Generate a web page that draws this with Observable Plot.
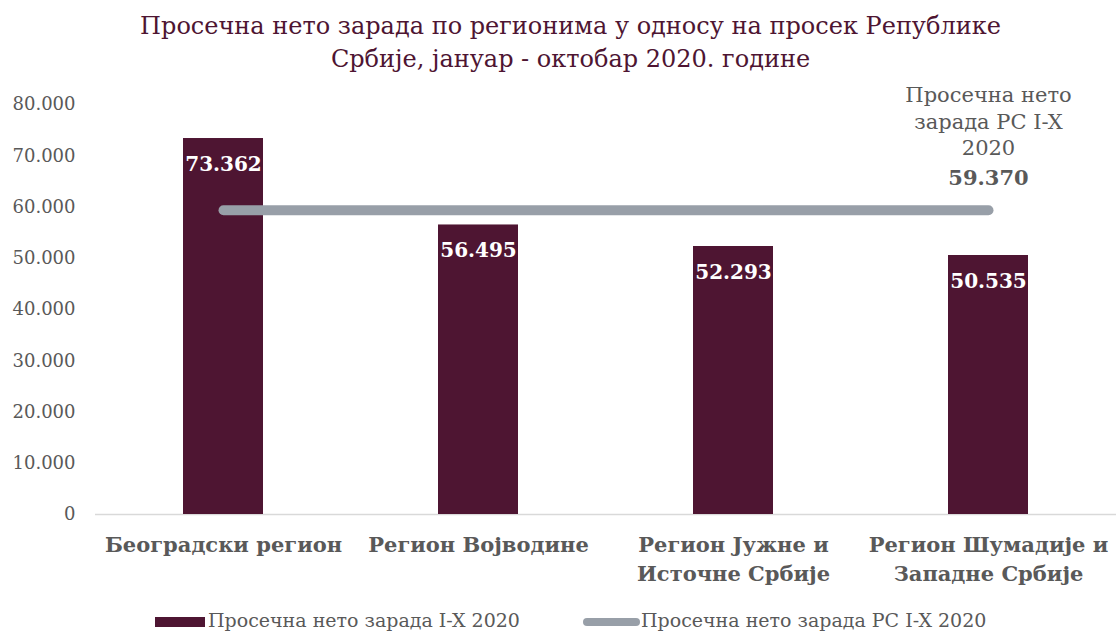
<!DOCTYPE html>
<html>
<head>
<meta charset="utf-8">
<script src="https://cdn.jsdelivr.net/npm/d3@7"></script>
<script src="https://cdn.jsdelivr.net/npm/@observablehq/plot@0.6"></script>
<style>
  html, body { margin: 0; padding: 0; background: #fff; }
  body { width: 1119px; height: 632px; overflow: hidden; font-family: "DejaVu Serif", serif; }
  #title { width: 1119px; height: 78px; box-sizing: border-box; padding-top: 10px; padding-left: 22px; text-align: center; color: #4E1532; font-size: 24px; line-height: 33px; }
  #legend { position: absolute; top: 606px; left: 0; width: 1119px; height: 26px; font-size: 19px; color: #595959; }
  .sw { position: absolute; }
  .lt { position: absolute; top: 3px; white-space: nowrap; }
</style>
</head>
<body>
<div id="title">Просечна нето зарада по регионима у односу на просек Републике<br>Србије, јануар - октобар 2020. године</div>
<div id="chart"></div>
<div id="legend">
  <div class="sw" style="left:155px; top:11px; width:50px; height:10px; background:#4E1532;"></div>
  <div class="lt" style="left:208px;">Просечна нето зарада I-X 2020</div>
  <div class="sw" style="left:583px; top:12px; width:57px; height:8px; border-radius:4px; background:#989FA8;"></div>
  <div class="lt" style="left:641px;">Просечна нето зарада РС I-X 2020</div>
</div>
<script>
const regions = ["Београдски регион", "Регион Војводине", "Регион Јужне и Источне Србије", "Регион Шумадије и Западне Србије"];
const tickLabels = ["Београдски регион", "Регион Војводине", "Регион Јужне и\nИсточне Србије", "Регион Шумадије и\nЗападне Србије"];
const wages = [73362, 56495, 52293, 50535];
const nationalAvg = 59370;
const avgLabel = "Просечна нето\nзарада РС I-X\n2020";
const yTicks = [0, 10000, 20000, 30000, 40000, 50000, 60000, 70000, 80000];

const fmt = d => d === 0 ? "0" : d3.format(",")(d).replace(/,/g, ".");
const bars = regions.map((r, i) => ({region: r, value: wages[i]}));
const avgLine = regions.map(r => ({region: r, value: nationalAvg}));
const lastRegion = regions[regions.length - 1];

const chart = Plot.plot({
  width: 1119,
  height: 522,
  marginLeft: 95,
  marginRight: 3,
  marginTop: 26,
  marginBottom: 86,
  style: {fontFamily: "DejaVu Serif, serif", background: "white", overflow: "visible"},
  x: {domain: regions, paddingInner: 0.686, paddingOuter: 0.343, label: null},
  y: {domain: [0, 80000], label: null},
  marks: [
    Plot.ruleY([0], {stroke: "#D9D9D9", strokeWidth: 1.5}),
    Plot.axisY({ticks: yTicks, tickFormat: fmt, tickSize: 0, tickPadding: 20, fontSize: 18, fill: "#595959", label: null}),
    Plot.axisX({tickSize: 0, tickPadding: 17, tickFormat: d => tickLabels[regions.indexOf(d)], fontSize: 21, fontWeight: "bold", fill: "#595959", label: null, lineHeight: 1.38}),
    Plot.barY(bars, {x: "region", y: "value", fill: "#4E1532"}),
    Plot.lineY(avgLine, {x: "region", y: "value", stroke: "#989FA8", strokeWidth: 10, strokeLinecap: "round"}),
    Plot.text(bars, {x: "region", y: "value", text: d => fmt(d.value), dy: 26, fill: "white", fontWeight: "bold", fontSize: 20}),
    Plot.text([{region: lastRegion, value: nationalAvg}], {x: "region", y: "value", text: () => avgLabel, dy: -90, lineAnchor: "middle", lineHeight: 1.27, fill: "#595959", fontSize: 21}),
    Plot.text([{region: lastRegion, value: nationalAvg}], {x: "region", y: "value", text: d => fmt(d.value), dy: -32, fill: "#595959", fontWeight: "bold", fontSize: 21})
  ]
});
document.getElementById("chart").appendChild(chart);
</script>
</body>
</html>
